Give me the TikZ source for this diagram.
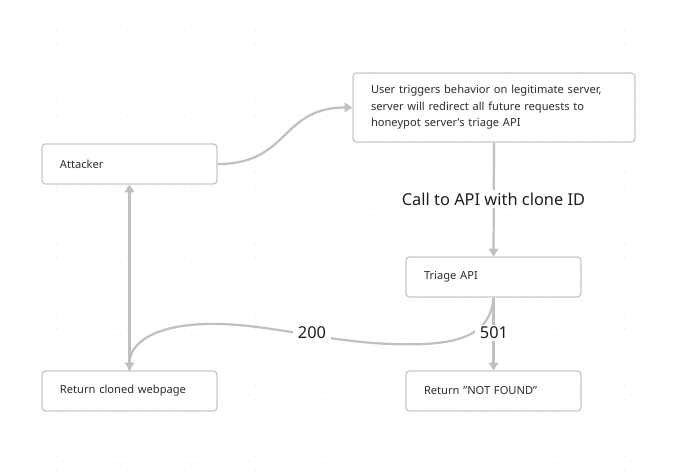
\documentclass[tikz,border=0pt]{standalone}
\usepackage{fontspec}
\setmainfont{Noto Sans}
\usetikzlibrary{arrows.meta}
\definecolor{edgegray}{RGB}{192,192,192}
\definecolor{boxgray}{RGB}{200,200,200}
\definecolor{dotgray}{RGB}{222,222,222}
\definecolor{textgray}{RGB}{45,45,45}
\definecolor{labelgray}{RGB}{30,30,30}
\tikzset{
    box/.style={draw=boxgray, line width=1.1pt, rounded corners=3pt, fill=white,
        minimum width=5.25cm, minimum height=1.2cm, inner xsep=0.54cm,
        text width=4.17cm, align=left, font=\fontsize{9.5}{14}\selectfont, text=textgray},
    edge/.style={draw=edgegray, line width=1.9pt},
    tip/.style={-{Triangle[width=8pt,length=6.5pt]}},
    lbl/.style={fill=white, inner xsep=4pt, inner ysep=2pt, text=labelgray, font=\fontsize{14}{16}\selectfont}
}

\begin{document}
\begin{tikzpicture}[x=0.03cm, y=-0.03cm]

    \useasboundingbox (0,0) rectangle (677,471);
    % dot grid
    \foreach \i in {0,...,47}
        \foreach \j in {0,...,33}
            \fill[dotgray] (14+\i*14.2, 2+\j*14.2) circle (0.45pt);

    \node[box] (attacker) at (129.5,164) {Attacker};
    \node[box, minimum width=8.46cm, minimum height=2.07cm, text width=7.38cm] (trigger) at (494,107.5)
        {User triggers behavior on legitimate server,\\server will redirect all future requests to\\honeypot server's triage API};
    \node[box] (triage) at (493.5,277) {Triage API};
    \node[box] (cloned) at (129.5,391) {Return cloned webpage};
    \node[box] (notfound) at (493.5,391) {Return \symbol{34}NOT FOUND\symbol{34}};

    \draw[edge, tip] (attacker.east) .. controls (290,164) and (280,107.5) .. (trigger.west);
    \draw[edge, tip] (trigger.south) -- (triage.north);
    \draw[edge, tip] (triage.south) -- (notfound.north);
    \draw[edge, tip] (cloned.north) -- (attacker.south);
    \draw[edge, tip] (triage.south) .. controls (490,340) and (450,346) .. (390,344)
        .. controls (320,341) and (260,322) .. (205,324)
        .. controls (150,326) and (129.5,345) .. (cloned.north);

    \node[lbl] (callapi) at (493.5,199) {Call to API with clone ID};
    \node[lbl] (ok) at (312,333) {200};
    \node[lbl] (missing) at (494,333) {501};
\end{tikzpicture}
\end{document}
